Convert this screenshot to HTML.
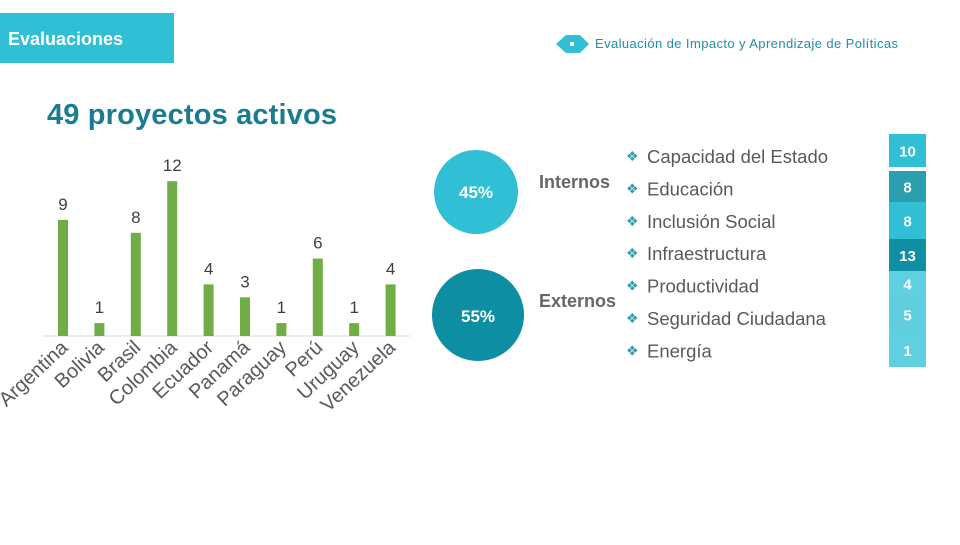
<!DOCTYPE html>
<html><head><meta charset="utf-8"><style>
body{margin:0;width:960px;height:540px;background:#fff;overflow:hidden;font-family:"Liberation Sans",sans-serif}
</style></head><body>
<svg width="960" height="540" viewBox="0 0 960 540" xmlns="http://www.w3.org/2000/svg">
<rect x="0" y="13" width="174" height="50" fill="#30bfd5"/>
<text x="8" y="45" font-size="18" font-weight="bold" fill="#fff">Evaluaciones</text>
<path d="M556 44 L566 35 L580 35 L589 44 L580 53 L566 53 Z" fill="#30bfd5"/>
<rect x="570" y="42" width="4" height="4" fill="#fff"/>
<text x="595" y="48" font-size="13" fill="#1f8fa5" textLength="303">Evaluación de Impacto y Aprendizaje de Políticas</text>
<text x="47" y="124" font-size="29" font-weight="bold" fill="#1a7c91" textLength="290">49 proyectos activos</text>
<g id="chart"></g>
<circle cx="476" cy="192" r="42" fill="#30bfd5"/>
<text x="476" y="198" font-size="17" font-weight="bold" fill="#fff" text-anchor="middle">45%</text>
<circle cx="478" cy="315" r="46" fill="#0e8ea2"/>
<text x="478" y="322" font-size="17" font-weight="bold" fill="#fff" text-anchor="middle">55%</text>
<text x="539" y="188" font-size="18" font-weight="bold" fill="#666">Internos</text>
<text x="539" y="307" font-size="18" font-weight="bold" fill="#666">Externos</text>
<g id="cats"></g>
</svg>
<script>
const countries=["Argentina","Bolivia","Brasil","Colombia","Ecuador","Panamá","Paraguay","Perú","Uruguay","Venezuela"];
const counts=[9,1,8,12,4,3,1,6,1,4];
const catNames=["Capacidad del Estado","Educación","Inclusión Social","Infraestructura","Productividad","Seguridad Ciudadana","Energía"];
const catValues=[10,8,8,13,4,5,1];
const NS="http://www.w3.org/2000/svg";
function mk(t,a,p){const e=document.createElementNS(NS,t);for(const k in a)e.setAttribute(k,a[k]);p.appendChild(e);return e;}
const g=document.getElementById('chart');
const base=336,unit=12.9,x0=63,step=36.4;
const xs=i=>x0+i*step, ys=v=>base-v*unit;
const ax=mk('line',{x1:43,x2:410,y1:base,y2:base,stroke:'#d9d9d9','stroke-width':1},g);


counts.forEach((v,i)=>{
 const b=mk('rect',{x:xs(i)-5,y:ys(v),width:10,height:v*unit,fill:'#70ad47'},g);
 
 
 const l=mk('text',{x:xs(i),y:ys(v)-10,'font-size':17,fill:'#404040','text-anchor':'middle'},g);
 l.textContent=v;
 
 
 const c=mk('text',{x:0,y:0,'font-size':20,fill:'#595959','text-anchor':'end',transform:`translate(${xs(i)+6},349) rotate(-43)`},g);
 c.textContent=countries[i];
 
 
});
const cg=document.getElementById('cats');
const boxY=[134,171,202,239,271,296,333],boxH=[33,31,37,32,25,37,34];
const cols=['#30bfd5','#2a9fb0','#30bfd5','#0e8fa3','#5fd0e0','#5fcfe0','#5fd0e0'];
catNames.forEach((n,i)=>{
 const y=157+i*32.4;
 const d=mk('text',{x:626,y:y+4,'font-size':14,fill:'#2a9fb0'},cg);
 d.textContent='❖';
 
 
 const t=mk('text',{x:647,y:y+6,'font-size':18.5,fill:'#595959'},cg);
 t.textContent=n;
 
 
 const r=mk('rect',{x:889,y:boxY[i],width:37,height:boxH[i],fill:cols[i]},cg);
 
 
 const v=mk('text',{x:907.5,y:boxY[i]+boxH[i]/2+6,'font-size':15,'font-weight':'bold',fill:'#fff','text-anchor':'middle'},cg);
 v.textContent=catValues[i];
 
 
});
</script>
</body></html>
